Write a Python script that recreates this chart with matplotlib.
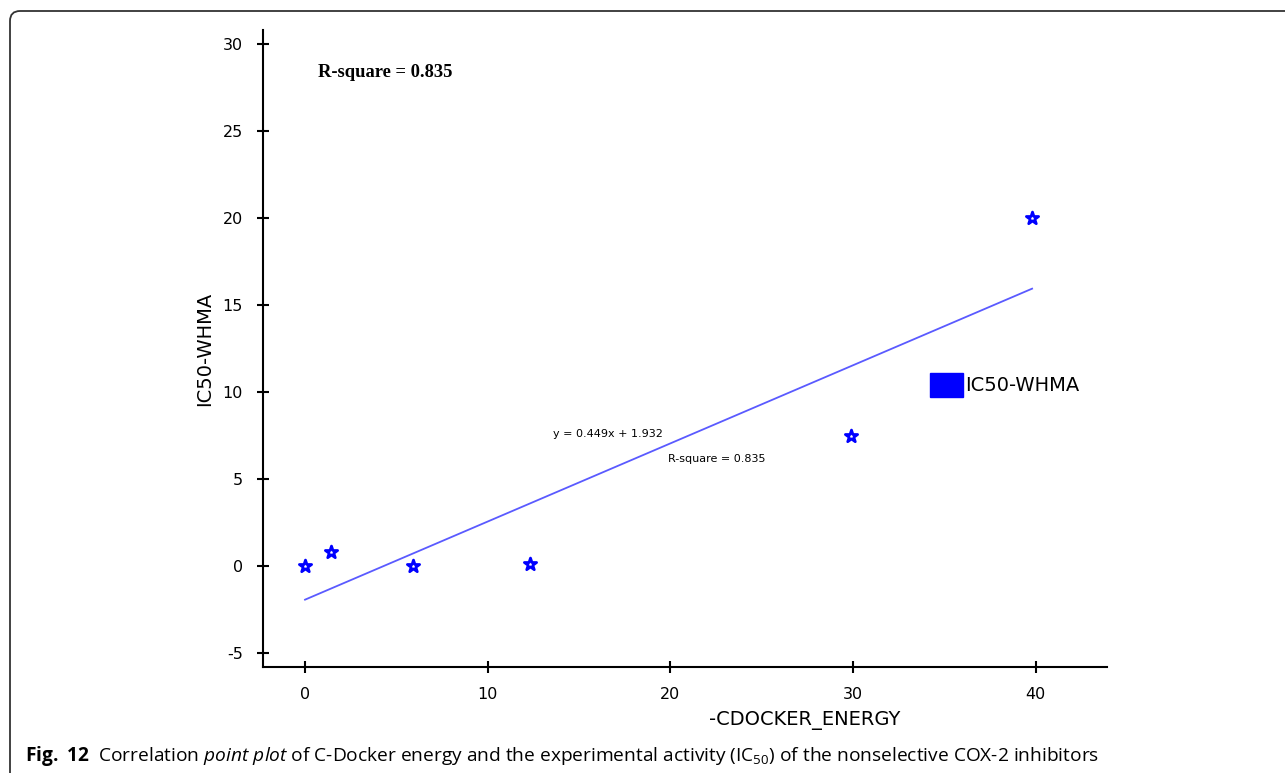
import matplotlib

matplotlib.use("Agg")
import matplotlib.pyplot as plt
import numpy as np
from matplotlib.patches import FancyBboxPatch, Patch
from matplotlib.transforms import IdentityTransform

# -CDOCKER_ENERGY и IC50
ENERGY = [0.0, 1.4, 5.9, 12.3, 29.9, 39.8]
IC50 = [0.0, 0.8, 0.0, 0.1, 7.5, 20.0]
SLOPE = 0.449
INTERCEPT = -1.932
X_TICKS = [0, 10, 20, 30, 40]
Y_TICKS = [-5, 0, 5, 10, 15, 20, 25, 30]

plt.rcParams["axes.unicode_minus"] = False
plt.rcParams["mathtext.fontset"] = "custom"
plt.rcParams["mathtext.rm"] = "Open Sans"
plt.rcParams["mathtext.it"] = "Open Sans:italic"
plt.rcParams["mathtext.bf"] = "Open Sans:bold"

fig = plt.figure(figsize=(12.85, 7.73), dpi=100)
ax = fig.add_axes([263 / 1285, 106 / 773, 844 / 1285, 637 / 773])

ax.scatter(ENERGY, IC50, marker="*", s=85, facecolors="white",
           edgecolors="blue", linewidths=2.0, zorder=3)
xl = np.array([min(ENERGY), max(ENERGY)])
ax.plot(xl, SLOPE * xl + INTERCEPT, color="#5a5aff", lw=1.3)

ax.set_xlim(-2.3, 43.9)
ax.set_ylim(-5.8, 30.8)
ax.set_xticks(X_TICKS)
ax.set_yticks(Y_TICKS)
ax.tick_params(direction="inout", length=9, width=1.5, labelsize=11.5, pad=10)
for s in ("top", "right"):
    ax.spines[s].set_visible(False)
for s in ("left", "bottom"):
    ax.spines[s].set_linewidth(1.5)
ax.set_xlabel("-CDOCKER_ENERGY", fontsize=14)
ax.set_ylabel("IC50-WHMA", fontsize=14)
ax.xaxis.set_label_coords((805 - 263) / 844, (667 - 720) / 637)
ax.yaxis.set_label_coords((205 - 263) / 844, 0.5)
ax.xaxis.label.set_va("center")
ax.yaxis.label.set_va("center")

ax.text(0.71, 28.33, "R-square = 0.835", fontsize=13.3, fontweight="bold",
        family="Liberation Serif", va="center")
ax.text(13.57, 7.59, "y = 0.449x + 1.932", fontsize=8, va="center")
ax.text(19.86, 6.15, "R-square = 0.835", fontsize=8, va="center")

ax.legend(handles=[Patch(facecolor="blue", edgecolor="blue")], labels=["IC50-WHMA"],
          loc="center left", bbox_to_anchor=(0.79, (667 - 385) / 637), frameon=False,
          fontsize=14, handlelength=1.7, handleheight=1.5, handletextpad=0.1,
          borderpad=0, borderaxespad=0)

fig.text(25 / 1285, 1 - 756 / 773,
         r"$\bf{Fig.\ 12}$  Correlation $\it{point\ plot}$ of C-Docker energy and the "
         r"experimental activity (IC$_{50}$) of the nonselective COX-2 inhibitors",
         fontsize=13.8, family="Open Sans", va="center")

frame = FancyBboxPatch((10, -30), 1400, 762 + 30, boxstyle="round,pad=0,rounding_size=10",
                       transform=IdentityTransform(), facecolor="none",
                       edgecolor="#333333", lw=1.3)
fig.patches.append(frame)

fig.savefig("out.png", dpi=100)
